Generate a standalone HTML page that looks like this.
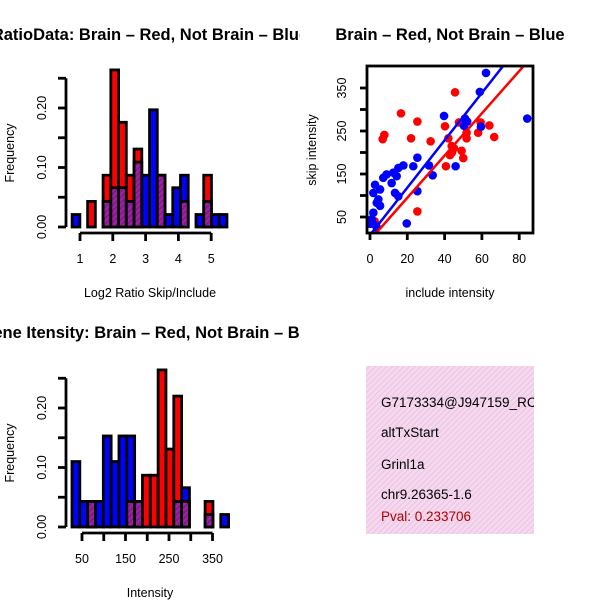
<!DOCTYPE html>
<html><head><meta charset="utf-8"><style>
html,body{margin:0;padding:0;background:#fff}
svg{display:block;font-family:"Liberation Sans",sans-serif}
</style></head><body>
<svg id="c" width="600" height="600" viewBox="0 0 600 600">
<defs>
<pattern id="hatch" patternUnits="userSpaceOnUse" width="4" height="4" patternTransform="rotate(45)">
<rect width="4" height="4" fill="#a020a0"/><rect width="1.5" height="4" fill="#7a1a8a"/></pattern>
<pattern id="pink" patternUnits="userSpaceOnUse" width="4" height="4" patternTransform="rotate(45)">
<rect width="4" height="4" fill="#f8d8f0"/><rect width="1.2" height="4" fill="#e8c8e0"/></pattern>
<clipPath id="cl1"><rect x="0" y="0" width="300" height="300"/></clipPath>
<clipPath id="cl3"><rect x="0" y="300" width="300" height="300"/></clipPath>
<clipPath id="clS"><rect x="367" y="66" width="166" height="167"/></clipPath>
<clipPath id="clT"><rect x="366" y="366" width="168" height="168"/></clipPath>
</defs>
<text x="150" y="40" text-anchor="middle" font-weight="bold" font-size="16.5" clip-path="url(#cl1)">RatioData: Brain – Red, Not Brain – Blue</text>
<text x="450" y="40" text-anchor="middle" font-weight="bold" font-size="16.5">Brain – Red, Not Brain – Blue</text>
<text x="152" y="338" text-anchor="middle" font-weight="bold" font-size="16.5" clip-path="url(#cl3)">Gene Itensity: Brain – Red, Not Brain – Blue</text>
<g id="h1"></g>
<g id="h2"></g>
<g id="sc"></g>
<g>
<rect x="366" y="366" width="168" height="168" fill="url(#pink)"/>
<g clip-path="url(#clT)" font-size="13.5">
<text x="381" y="407">G7173334@J947159_RC</text>
<text x="381" y="437">altTxStart</text>
<text x="381" y="469">Grinl1a</text>
<text x="381" y="499">chr9.26365-1.6</text>
<text x="381" y="521" fill="#b00000">Pval: 0.233706</text>
</g></g>
</svg>
<script>
// Ratio histogram data
const ratioBinStart = 0.76, ratioBinWidth = 0.236;
const ratioRed  = [0,0,0.043,0,0.087,0.264,0.176,0.087,0.131,0,0,0.087,0,0,0.043,0,0,0.087,0,0];
const ratioBlue = [0.021,0,0,0,0.043,0.066,0.066,0.043,0.109,0.087,0.197,0.087,0.021,0.066,0.087,0,0.021,0.043,0.021,0.021];
const ratioXTicks = [1,2,3,4,5];
// Intensity histogram data
const intBinStart = 27, intBinWidth = 18;
const intRed  = [0,0,0.043,0,0,0,0,0.043,0.043,0.087,0.087,0.264,0.131,0.22,0.043,0,0,0.043,0,0];
const intBlue = [0.110,0.043,0.043,0.043,0.153,0.110,0.153,0.153,0.043,0,0,0,0,0.043,0.066,0,0,0.021,0,0.021];
const intXTicks = [50,100,150,200,250,300,350];
const intXLabels = [50,150,250,350];
const yTicks = [0,0.05,0.10,0.15,0.20,0.25];
const yLabels = ["0.00","0.10","0.20"];
// Scatter data
const redX = [45.6,16.6,25.4,7.7,6.8,22,32.5,40.2,47.7,42,43.8,45,42.9,49.1,50,51.8,51.8,58,59.3,64,66.6,40.7,25.4,2.5,44];
const redY = [340,291,272,241,231,233,226,261,270,233,215,210,194,204,187,246,233,246,270,263,236,168,63,40,200];
const blueX = [62.2,58.9,39.7,50.9,52.1,50.4,59.5,84.3,45.9,33.6,31.6,25.4,25.4,19.7,23.2,17.9,15.2,12.5,8.9,7.1,2.7,1.8,5.4,11.6,14.3,13.4,15.2,4.5,5.4,3.6,1.8,0.9,1.8,3.6,0];
const blueY = [385,341,285,279,272,262,260,279,168,147,170,188,110,35,168,170,164,153,149,141,125,106,114,129,145,106,98,91,76,83,60,45,34,26,34];
const fitBlue = [5.51, 8];
const fitRed = [4.91, -3.5];
const scXTicks = [0,20,40,60,80];
const scYTicks = [50,100,150,200,250,300,350];
const scYLabels = [50,150,250,350];

const NS="http://www.w3.org/2000/svg";
function mk(p,t,a){const e=document.createElementNS(NS,t);for(const k in a)e.setAttribute(k,a[k]);p.appendChild(e);return e;}

function hist(g,oy,start,w,red,blue,sx,xt,xl,xlab,nameP){
  const sy=v=>oy+227-v/0.1*59.5;
  for(let i=0;i<red.length;i++){
    const x0=sx(start+i*w),x1=sx(start+(i+1)*w);
    const r=red[i],b=blue[i],m=Math.min(r,b),M=Math.max(r,b);
    if(M<=0)continue;
    const hi=r>=b?"#ff0000":"#0000ff";
    let e=mk(g,"rect",{x:x0,y:sy(M),width:x1-x0,height:sy(0)-sy(M),fill:hi,stroke:"#000","stroke-width":2.8});
    
    
    if(m>0){
      e=mk(g,"rect",{x:x0,y:sy(m),width:x1-x0,height:sy(0)-sy(m),fill:"url(#hatch)",stroke:"#000","stroke-width":2.8});
      
      
    }
  }
  mk(g,"line",{x1:66,x2:66,y1:sy(0.25),y2:sy(0),stroke:"#000","stroke-width":2.8});
  yTicks.forEach(t=>mk(g,"line",{x1:58,x2:66,y1:sy(t),y2:sy(t),stroke:"#000","stroke-width":2.8}));
  yLabels.forEach(l=>{const y=sy(parseFloat(l));const e=mk(g,"text",{x:46,y:y,"font-size":12.5,"text-anchor":"middle",transform:`rotate(-90 46 ${y})`});e.textContent=l;});
  const ax=oy+233;
  mk(g,"line",{x1:sx(xt[0]),x2:sx(xt[xt.length-1]),y1:ax,y2:ax,stroke:"#000","stroke-width":2.8});
  xt.forEach(t=>mk(g,"line",{x1:sx(t),x2:sx(t),y1:ax,y2:ax+8,stroke:"#000","stroke-width":2.8}));
  xl.forEach(t=>{const e=mk(g,"text",{x:sx(t),y:oy+263,"font-size":12.5,"text-anchor":"middle"});e.textContent=t;});
  let e=mk(g,"text",{x:150,y:oy+297,"font-size":12.5,"text-anchor":"middle"});e.textContent=xlab;
  
  
  const cy=oy+153;
  e=mk(g,"text",{x:14,y:cy,"font-size":12.5,"text-anchor":"middle",transform:`rotate(-90 14 ${cy})`});e.textContent="Frequency";
  
  
}
hist(document.getElementById("h1"),0,ratioBinStart,ratioBinWidth,ratioRed,ratioBlue,v=>80+(v-1)*32.8,ratioXTicks,ratioXTicks,"Log2 Ratio Skip/Include","ratio");
hist(document.getElementById("h2"),300,intBinStart,intBinWidth,intRed,intBlue,v=>82+(v-50)*0.435,intXTicks,intXLabels,"Intensity","intensity");

// scatter
const g=document.getElementById("sc");
const sx=v=>370+v*1.865, sy=v=>217-(v-50)*0.43;
const pts=mk(g,"g",{"clip-path":"url(#clS)"});
function dots(X,Y,col,n){X.forEach((x,i)=>{const e=mk(pts,"circle",{cx:sx(x),cy:sy(Y[i]),r:4.3,fill:col});
  
  });}
dots(redX,redY,"#ff0000","brain");
dots(blueX,blueY,"#0000ff","not-brain");
function fit(f,col,n){const e=mk(pts,"line",{x1:sx(0),y1:sy(f[1]),x2:sx(100),y2:sy(f[0]*100+f[1]),stroke:col,"stroke-width":2.5});
  
  }
fit(fitRed,"#ff0000","brain-fit-line");
fit(fitBlue,"#0000ff","not-brain-fit-line");
mk(g,"rect",{x:367,y:66,width:166,height:167,fill:"none",stroke:"#000","stroke-width":2.8});
scXTicks.forEach(t=>{mk(g,"line",{x1:sx(t),x2:sx(t),y1:233,y2:240,stroke:"#000","stroke-width":2.8});
  const e=mk(g,"text",{x:sx(t),y:263,"font-size":12.5,"text-anchor":"middle"});e.textContent=t;});
scYTicks.forEach(t=>mk(g,"line",{x1:360,x2:367,y1:sy(t),y2:sy(t),stroke:"#000","stroke-width":2.8}));
scYLabels.forEach(t=>{const y=sy(t);const e=mk(g,"text",{x:346,y:y,"font-size":12.5,"text-anchor":"middle",transform:`rotate(-90 346 ${y})`});e.textContent=t;});
let e=mk(g,"text",{x:450,y:297,"font-size":12.5,"text-anchor":"middle"});e.textContent="include intensity";


e=mk(g,"text",{x:316,y:150,"font-size":12.5,"text-anchor":"middle",transform:"rotate(-90 316 150)"});e.textContent="skip intensity";


</script>
</body></html>
